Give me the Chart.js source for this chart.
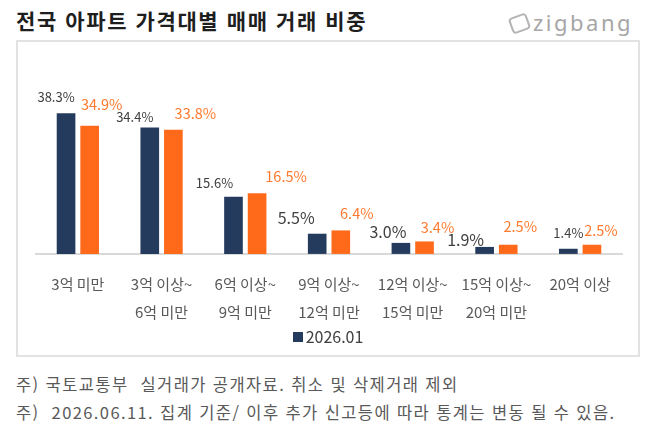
<!DOCTYPE html>
<html lang="ko">
<head>
<meta charset="utf-8">
<script src="https://cdn.jsdelivr.net/npm/chart.js@4.4.1/dist/chart.umd.min.js"></script>
<style>
    html, body { margin: 0; padding: 0; background: #fff; }
    body { width: 655px; height: 445px; position: relative; overflow: hidden;
           font-family: "Noto Sans CJK KR", "Noto Sans", sans-serif; }
    .title { position: absolute; left: 16px; top: 5px; font-size: 21px; font-weight: bold; color: #1e1e1e; letter-spacing: 1.6px; }
    .logo { position: absolute; left: 510px; top: 7px; color: #a6a6a6; font-family: "Noto Sans", sans-serif; font-size: 22px; letter-spacing: 2.5px; }
    .logo .icon { display: inline-block; width: 15px; height: 13px; border: 2px solid #b4b4b4; border-radius: 4px;
                  transform: rotate(-20deg); margin-right: 4px; vertical-align: -1px; }
    .box { position: absolute; left: 16px; top: 40px; width: 620px; height: 313px; border: 2px solid #e2e2e2; }
    .legend { position: absolute; left: 0; width: 620px; top: 282px; text-align: center; font-size: 16px; color: #404040; }
    .legend i { display: inline-block; width: 10px; height: 10px; margin-right: 3px; vertical-align: 1px; }
    .notes { position: absolute; left: 16px; top: 370px; font-size: 16.5px; color: #595959; line-height: 28px; letter-spacing: 1.4px; }
</style>
</head>
<body>
<div class="title">전국 아파트 가격대별 매매 거래 비중</div>
<div class="logo"><span class="icon"></span>zigbang</div>
<div class="box">
    <canvas id="share-chart" width="620" height="313"></canvas>
    <div class="legend" id="legend"></div>
</div>
<div class="notes">
    <div>주) 국토교통부&nbsp;&nbsp;실거래가 공개자료. 취소 및 삭제거래 제외</div>
    <div>주)&nbsp;&nbsp;2026.06.11. 집계 기준/ 이후 추가 신고등에 따라 통계는 변동 될 수 있음.</div>
</div>
<script>
// Price bands (two-line tick labels)
const categories = [
    ['3억 미만'],
    ['3억 이상~', '6억 미만'],
    ['6억 이상~', '9억 미만'],
    ['9억 이상~', '12억 미만'],
    ['12억 이상~', '15억 미만'],
    ['15억 이상~', '20억 미만'],
    ['20억 이상']
];

// Share of sales (%)
const share202601 = [38.3, 34.4, 15.6, 5.5, 3.0, 1.9, 1.4];
const sharePrev = [34.9, 33.8, 16.5, 6.4, 3.4, 2.5, 2.5];

const seriesNames = ['2026.01', ''];
const colors = ['#253b5e', '#ff6a1a'];
const labelColors = ['#404040', '#ff7a30'];

// Data label placement as in the source (offset from bar top centre)
const labelStyle = [
    { dx: [-10, -15, -19, -21, -13, -19, 0], dy: [-16, -11, -14, -16, -11, -7, -16], size: [13, 13, 13, 16, 16, 16, 13] },
    { dx: [12, 22, 29, 16, 13, 12, 9], dy: [-21, -16, -17, -17, -14, -18, -14], size: [14.5, 14.5, 14.5, 14.5, 14.5, 14.5, 14.5] }
];

const valueLabels = {
    id: 'valueLabels',
    afterDatasetsDraw(chart) {
        const ctx = chart.ctx;
        ctx.save();
        ctx.textAlign = 'center';
        ctx.textBaseline = 'middle';
        chart.data.datasets.forEach((ds, di) => {
            const meta = chart.getDatasetMeta(di);
            meta.data.forEach((bar, i) => {
                const st = labelStyle[di];
                ctx.font = `${st.size[i]}px "Noto Sans CJK KR", "Noto Sans", sans-serif`;
                ctx.fillStyle = labelColors[di];
                ctx.fillText(ds.data[i].toFixed(1) + '%', bar.x + st.dx[i], bar.y + st.dy[i]);
            });
        });
        ctx.restore();
    }
};

const ctx = document.getElementById('share-chart').getContext('2d');
const chart = new Chart(ctx, {
    type: 'bar',
    data: {
        labels: categories,
        datasets: [
            { label: seriesNames[0], data: share202601, backgroundColor: colors[0] },
            { label: seriesNames[1], data: sharePrev, backgroundColor: colors[1] }
        ]
    },
    options: {
        responsive: false,
        animation: false,
        categoryPercentage: 0.564,
        barPercentage: 0.79,
        layout: { padding: { top: 10, left: 18, right: 16, bottom: 13 } },
        scales: {
            x: {
                grid: { display: false, drawTicks: false },
                border: { display: true, color: '#d9d9d9', width: 2 },
                ticks: {
                    color: '#595959',
                    padding: 16,
                    maxRotation: 0,
                    autoSkip: false,
                    font: { family: '"Noto Sans CJK KR", "Noto Sans", sans-serif', size: 15, lineHeight: 1.87 }
                }
            },
            y: { display: false, min: 0, max: 55 }
        },
        plugins: {
            legend: { display: false },
            tooltip: { enabled: false }
        }
    },
    plugins: [valueLabels]
});

// Legend: only the first series is named in the source
document.getElementById('legend').innerHTML = chart.data.datasets
    .filter(ds => ds.label)
    .map(ds => `<i style="background:${ds.backgroundColor}"></i>${ds.label}`)
    .join('');
</script>
</body>
</html>
